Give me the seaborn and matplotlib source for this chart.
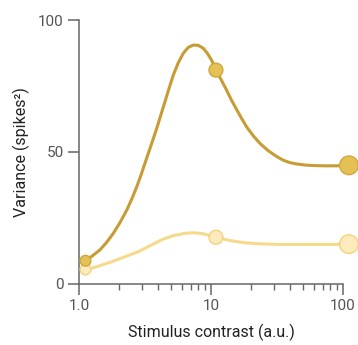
import matplotlib
matplotlib.use("Agg")
import matplotlib.pyplot as plt
import matplotlib.ticker as mticker
import numpy as np
import pandas as pd
import seaborn as sns

# Curve traces
high_x = [1.11, 1.25, 1.44, 1.62, 1.82, 2.05, 2.30, 2.52, 2.74, 2.95, 3.16, 3.45,
          3.88, 4.17, 4.48, 4.82, 5.18, 5.65, 6.17, 6.72, 7.34, 8.0, 8.74, 9.4,
          10.1, 10.9, 11.9, 13.1, 14.3, 15.7, 17.1, 18.6, 20.9, 23.5, 27.2, 31.5,
          35.4, 39.7, 44.6, 51.6, 59.6, 73.0, 89.6, 111.0]
high_y = [8.7, 10.4, 12.8, 15.7, 19.1, 23.3, 27.9, 32.3, 36.8, 41.2, 45.7, 51.3,
          58.9, 64.0, 69.0, 74.2, 79.1, 83.8, 87.4, 89.6, 90.5, 90.4, 89.3, 87.3,
          84.8, 81.0, 77.5, 73.5, 69.6, 65.9, 62.6, 59.5, 56.1, 53.2, 50.4, 48.2,
          46.8, 45.9, 45.4, 45.0, 44.8, 44.7, 44.7, 44.9]
low_x = [1.12, 1.4, 1.76, 2.2, 2.80, 3.45, 4.20, 5.15, 6.32, 7.3, 8.45, 9.6,
         10.97, 13.8, 18.0, 24.0, 32.2, 57.5, 111.0]
low_y = [5.2, 6.6, 8.3, 10.1, 12.1, 14.4, 16.6, 18.2, 19.1, 19.3, 19.1, 18.4,
         17.6, 16.4, 15.5, 15.1, 14.9, 14.9, 14.9]

# Marker points
pt_x = [1.12, 10.9, 111.0]
high_pts = [8.7, 81.0, 44.9]
low_pts = [5.4, 17.6, 15.0]
pt_size = [60, 100, 180]

x_ticks = [1, 10, 100]
x_ticklabels = ["1.0", "10", "100"]
y_ticks = [0, 50, 100]

sns.set_theme(style="ticks")
plt.rcParams["font.family"] = ["Roboto", "DejaVu Sans"]

fig = plt.figure(figsize=(3.58, 3.45), dpi=100)
ax = fig.add_axes([0.2207, 0.1777, 0.958 - 0.2207, 0.942 - 0.1777])

dark_line = "#C79C34"
dark_fill = "#E5C155"
dark_edge = "#D2A73C"
light_line = "#F6DA8C"
light_fill = "#FDEBBE"
light_edge = "#F3D27A"

df_hi = pd.DataFrame({"x": high_x, "y": high_y})
df_lo = pd.DataFrame({"x": low_x, "y": low_y})
sns.lineplot(data=df_lo, x="x", y="y", ax=ax, color=light_line, lw=2.2,
             clip_on=False, sort=False, zorder=2, solid_joinstyle="round")
sns.lineplot(data=df_hi, x="x", y="y", ax=ax, color=dark_line, lw=2.2,
             clip_on=False, sort=False, zorder=3, solid_joinstyle="round")

df_pl = pd.DataFrame({"x": pt_x, "y": low_pts, "s": pt_size})
df_ph = pd.DataFrame({"x": pt_x, "y": high_pts, "s": pt_size})
sns.scatterplot(data=df_pl, x="x", y="y", size="s", sizes=(min(pt_size), max(pt_size)),
                ax=ax, color=light_fill, edgecolor=light_edge, linewidth=1.0,
                legend=False, clip_on=False, zorder=4)
sns.scatterplot(data=df_ph, x="x", y="y", size="s", sizes=(min(pt_size), max(pt_size)),
                ax=ax, color=dark_fill, edgecolor=dark_edge, linewidth=1.0,
                legend=False, clip_on=False, zorder=5)

ax.set_xscale("log")
ax.set_xlim(1, 100)
ax.set_ylim(0, 100)
ax.set_xticks(x_ticks)
ax.set_xticklabels(x_ticklabels)
ax.xaxis.set_minor_locator(mticker.LogLocator(base=10, subs=np.arange(2, 10)))
ax.xaxis.set_minor_formatter(mticker.NullFormatter())
ax.set_yticks(y_ticks)

for s in ["top", "right"]:
    ax.spines[s].set_visible(False)
for s in ["left", "bottom"]:
    ax.spines[s].set_color("#666666")
    ax.spines[s].set_linewidth(1.1)

ax.tick_params(axis="both", which="major", direction="out", length=8, width=1.1,
               color="#666666", labelcolor="#555555", labelsize=11, pad=3)
ax.tick_params(axis="x", which="minor", direction="out", length=4.5, width=1.0,
               color="#666666")
ax.tick_params(axis="y", which="minor", left=False)

ax.set_xlabel("Stimulus contrast (a.u.)", fontsize=11.5, color="#222222", labelpad=8)
ax.set_ylabel("Variance (spikes²)", fontsize=11.5, color="#222222", labelpad=6)

fig.savefig("out.png", dpi=100)
